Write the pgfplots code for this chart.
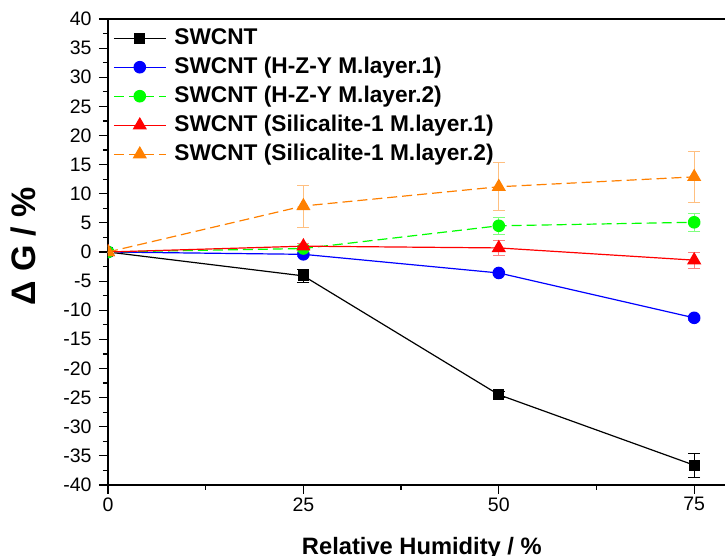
\documentclass[border=0pt]{standalone}
\usepackage{fontspec}
\setmainfont{Liberation Sans}
\usepackage{pgfplots}
\pgfplotsset{compat=1.18}
\definecolor{cblue}{RGB}{0,0,255}
\definecolor{cgreen}{RGB}{0,255,0}
\definecolor{cred}{RGB}{255,0,0}
\definecolor{corange}{RGB}{255,128,0}
\begin{document}
\begin{tikzpicture}
\begin{axis}[
    scale only axis,
    width=619pt, height=466pt,
    xmin=0, xmax=79.2, ymin=-40, ymax=40,
    xtick={0,25,50,75}, minor x tick num=1,
    ytick distance=5, minor y tick num=1,
    tick align=outside, xtick pos=left, ytick pos=left,
    major tick length=9pt, minor tick length=5pt,
    axis line style={line width=1.5pt},
    every tick/.style={black, line width=1.2pt},
    ticklabel style={font=\fontsize{19.5}{22}\selectfont},
    yticklabel shift=4pt,
    /pgf/number format/assume math mode=true,
    xlabel={Relative Humidity / \%},
    ylabel={Δ G / \%},
    xlabel style={font=\fontsize{23.7}{28}\selectfont\bfseries, at={(axis description cs:0.507,-0.1116)}, anchor=north, inner sep=0pt},
    ylabel style={font=\fontsize{34}{40}\selectfont\bfseries, at={(axis description cs:-0.137,0.512)}, anchor=center, inner sep=0pt},
    clip marker paths=true,
    every axis plot/.append style={line width=1.2pt},
    legend cell align=left,
    legend image code/.code={\draw[mark repeat=2,mark phase=2,#1] plot coordinates {(0pt,0pt) (26pt,0pt) (52pt,0pt)};},
    legend style={draw=none, fill=none, inner sep=0pt, at={(axis description cs:0,1)}, anchor=north west, xshift=5pt, yshift=-8pt,
        font=\fontsize{22.7}{27}\selectfont\bfseries, column sep=8pt, row sep=7pt,
        nodes={inner sep=0pt, text height=17pt, text depth=5pt}},
    error bars/y dir=both, error bars/y explicit,
    error bars/error mark options={rotate=90, mark size=6pt, line width=0.8pt},
]
\addplot[black, mark=square*, mark size=4.8pt, mark options={solid},
    error bars/error bar style={black, line width=0.8pt}]
    coordinates {(0,0) +- (0,0) (25,-4.1) +- (0,1.1) (50,-24.5) +- (0,0.5) (75,-36.6) +- (0,2.1)};
\addplot[cblue, mark=*, mark size=5.7pt, mark options={solid},
    error bars/error bar style={cblue!50, line width=0.8pt}]
    coordinates {(0,0) +- (0,0) (25,-0.4) +- (0,0.3) (50,-3.6) +- (0,0.3) (75,-11.3) +- (0,0.4)};
\addplot[cgreen, dash pattern=on 10pt off 5pt, mark=*, mark size=5.7pt, mark options={solid},
    error bars/error bar style={cgreen!50, line width=0.8pt, solid}]
    coordinates {(0,0) +- (0,0) (25,0.6) +- (0,0.5) (50,4.5) +- (0,1.5) (75,5.1) +- (0,1.6)};
\addplot[cred, mark=triangle*, mark size=7pt, mark options={solid},
    error bars/error bar style={cred!50, line width=0.8pt}]
    coordinates {(0,0) +- (0,0) (25,1.0) +- (0,0.5) (50,0.7) +- (0,1.3) (75,-1.4) +- (0,1.4)};
\addplot[corange, dash pattern=on 10pt off 5pt, mark=triangle*, mark size=7pt, mark options={solid},
    error bars/error bar style={corange!50, line width=0.8pt, solid}]
    coordinates {(0,0) +- (0,0) (25,7.9) +- (0,3.6) (50,11.2) +- (0,4.1) (75,12.9) +- (0,4.3)};
\legend{SWCNT, SWCNT (H-Z-Y M.layer.1), SWCNT (H-Z-Y M.layer.2), SWCNT (Silicalite-1 M.layer.1), SWCNT (Silicalite-1 M.layer.2)}
\end{axis}
\pgfresetboundingbox
\path[use as bounding box] ([shift={(-108pt,-71pt)}]current axis.south west) rectangle ([shift={(617pt,485pt)}]current axis.south west);
\end{tikzpicture}
\end{document}
